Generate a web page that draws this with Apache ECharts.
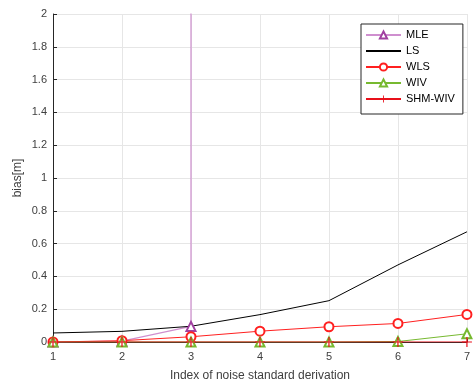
<!DOCTYPE html>
<html><head><meta charset="utf-8">
<script src="https://cdn.jsdelivr.net/npm/echarts@6/dist/echarts.min.js"></script>
<style>html,body{margin:0;padding:0;background:#fff}#c{width:473px;height:387px}</style>
</head><body><div id="c"></div>
<script>
var xValues = [1, 2, 3, 4, 5, 6, 7];
var yTicks = [0, 0.2, 0.4, 0.6, 0.8, 1, 1.2, 1.4, 1.6, 1.8, 2];
var seriesNames = ['MLE', 'LS', 'WLS', 'WIV', 'SHM-WIV'];
var mle = [0.0, 0.005, 0.095, 50000, 50000, 50000, 50000];
var ls = [0.055, 0.065, 0.096, 0.167, 0.252, 0.47, 0.672];
var wls = [0.0, 0.008, 0.032, 0.066, 0.093, 0.113, 0.168];
var wiv = [0.0, 0.0, 0.0, 0.0, 0.0, 0.003, 0.05];
var shmwiv = [0.0, 0.0, 0.0, 0.0, 0.0, 0.0, 0.0];

function pairs(v){ return xValues.map(function(x,i){ return [x, v[i]]; }); }
var font = 'Liberation Sans, Arial, sans-serif';
var plus = 'path://M4.4,0h1.2v10h-1.2z M0,4.4h10v1.2h-10z';

var chart = echarts.init(document.getElementById('c'), null, {renderer:'canvas'});
chart.setOption({
  animation: false,
  backgroundColor: '#fff',
  grid: {left: 53, top: 14, right: 0, bottom: 40, containLabel: false},
  xAxis: {
    type: 'value', min: 1, max: 7, interval: 1,
    name: 'Index of noise standard derivation', nameLocation: 'middle', nameGap: 28,
    nameMoveOverlap: false,
    nameTextStyle: {fontFamily: font, fontSize: 12, color: '#404040'},
    axisLine: {lineStyle: {color: '#262626', width: 1}},
    axisTick: {inside: true, length: 4, lineStyle: {color: '#262626'}},
    axisLabel: {fontFamily: font, fontSize: 11, color: '#404040', margin: 9},
    splitLine: {show: true, lineStyle: {color: '#e6e6e6', width: 1}}
  },
  yAxis: {
    type: 'value', min: 0, max: 2, interval: 0.2,
    name: 'bias[m]', nameLocation: 'middle', nameGap: 29,
    nameMoveOverlap: false,
    nameTextStyle: {fontFamily: font, fontSize: 12, color: '#404040'},
    axisLine: {show: true, lineStyle: {color: '#262626', width: 1}},
    axisTick: {show: true, inside: true, length: 4, lineStyle: {color: '#262626'}},
    axisLabel: {fontFamily: font, fontSize: 11, color: '#404040', margin: 6,
      formatter: function(v){ return String(Math.round(v*10)/10); }},
    splitLine: {show: true, lineStyle: {color: '#e6e6e6', width: 1}}
  },
  legend: {
    orient: 'vertical', left: 361, top: 24, width: 103,
    padding: [5, 8, 9, 4], itemGap: 4,
    itemWidth: 35, itemHeight: 9,
    backgroundColor: '#fff', borderColor: '#262626', borderWidth: 1,
    textStyle: {fontFamily: font, fontSize: 11, color: '#000', lineHeight: 12},
    data: [
      {name: seriesNames[0]},
      {name: seriesNames[1], itemStyle: {opacity: 0}},
      {name: seriesNames[2]},
      {name: seriesNames[3]},
      {name: seriesNames[4]}
    ]
  },
  series: [
    {name: seriesNames[0], type: 'line', data: pairs(mle), symbol: 'emptyTriangle', symbolSize: 9,
     lineStyle: {color: '#cf8fcf', width: 1.2}, itemStyle: {color: '#a040a0', borderColor: '#a040a0'}},
    {name: seriesNames[1], type: 'line', data: pairs(ls), symbol: 'none',
     lineStyle: {color: '#000', width: 1}, itemStyle: {color: '#000'}},
    {name: seriesNames[2], type: 'line', data: pairs(wls), symbol: 'emptyCircle', symbolSize: 9,
     lineStyle: {color: '#ff2020', width: 1}, itemStyle: {color: '#ff2020', borderColor: '#ff2020'}},
    {name: seriesNames[3], type: 'line', data: pairs(wiv), symbol: 'emptyTriangle', symbolSize: 9,
     lineStyle: {color: '#77b930', width: 1}, itemStyle: {color: '#77b930', borderColor: '#77b930'}},
    {name: seriesNames[4], type: 'line', data: pairs(shmwiv), symbol: plus, symbolSize: 10,
     lineStyle: {color: '#e8101a', width: 1.2}, itemStyle: {color: '#e8101a'}}
  ]
});
</script></body></html>
